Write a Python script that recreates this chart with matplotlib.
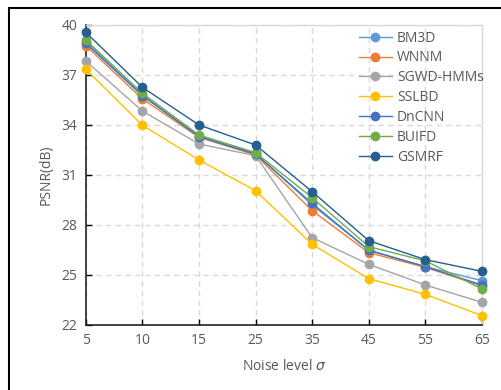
import matplotlib
matplotlib.use("Agg")
import matplotlib.pyplot as plt
from matplotlib.patches import Rectangle

# noise levels (categorical x axis)
noise_levels = ["5", "10", "15", "25", "35", "45", "55", "65"]

bm3d = [39.0, 35.8, 33.3, 32.3, 29.2, 26.5, 25.5, 24.66]
wnnm = [38.76, 35.56, 33.26, 32.2, 28.86, 26.34, 25.46, 24.34]
sgwd_hmms = [37.84, 34.84, 32.86, 32.16, 27.24, 25.64, 24.4, 23.36]
sslbd = [37.34, 33.98, 31.9, 30.06, 26.84, 24.78, 23.84, 22.56]
dncnn = [38.9, 35.75, 33.3, 32.25, 29.3, 26.48, 25.5, 24.4]
buifd = [39.1, 35.9, 33.4, 32.34, 29.64, 26.7, 25.85, 24.16]
gsmrf = [39.56, 36.26, 34.0, 32.8, 30.0, 27.06, 25.92, 25.22]

names = ["BM3D", "WNNM", "SGWD-HMMs", "SSLBD", "DnCNN", "BUIFD", "GSMRF"]
series = [bm3d, wnnm, sgwd_hmms, sslbd, dncnn, buifd, gsmrf]
colors = ["#5B9BD5", "#ED7D31", "#A5A5A5", "#FFC000", "#4472C4", "#70AD47", "#255E91"]

plt.rcParams["font.family"] = ["Open Sans", "DejaVu Sans"]
text_color = "#595959"

fig = plt.figure(figsize=(5.02, 3.9), dpi=100)
ax = fig.add_axes([0.171, 0.1667, 0.789, 0.7692])

xs = list(range(len(noise_levels)))
for name, vals, c in zip(names, series, colors):
    ax.plot(xs, vals, color=c, lw=1.0, marker="o", markersize=6,
            label=name, clip_on=False, zorder=3)

ax.set_xlim(0, len(noise_levels) - 1)
ax.set_ylim(22, 40)
ax.set_xticks(xs)
ax.set_xticklabels(noise_levels)
ax.set_yticks([22, 25, 28, 31, 34, 37, 40])
ax.tick_params(direction="in", length=4, width=1, colors="black",
               labelcolor=text_color, labelsize=10, pad=6)

ax.grid(True, ls=(0, (4, 3)), color="#d9d9d9", lw=1)
for side in ("left", "bottom"):
    ax.spines[side].set_color("#222222")
    ax.spines[side].set_linewidth(1.2)
for side in ("top", "right"):
    ax.spines[side].set_color("#d9d9d9")
    ax.spines[side].set_linewidth(1)

ax.set_xlabel(r"Noise level $\sigma$", color=text_color, fontsize=10, labelpad=8)
ax.set_ylabel("PSNR(dB)", color=text_color, fontsize=10, labelpad=6)

leg = ax.legend(loc="upper left", bbox_to_anchor=(0.675, 1.0), frameon=False,
                fontsize=10, handlelength=2.4, handletextpad=0.35,
                labelspacing=0.35, borderaxespad=0)
for t in leg.get_texts():
    t.set_color(text_color)

# outer frame (only top and left edges visible)
fig.patches.append(Rectangle((0.018, -0.2), 1.2, 1.18, transform=fig.transFigure,
                             fill=False, lw=1.5, edgecolor="black"))

fig.savefig("out.png", dpi=100)
